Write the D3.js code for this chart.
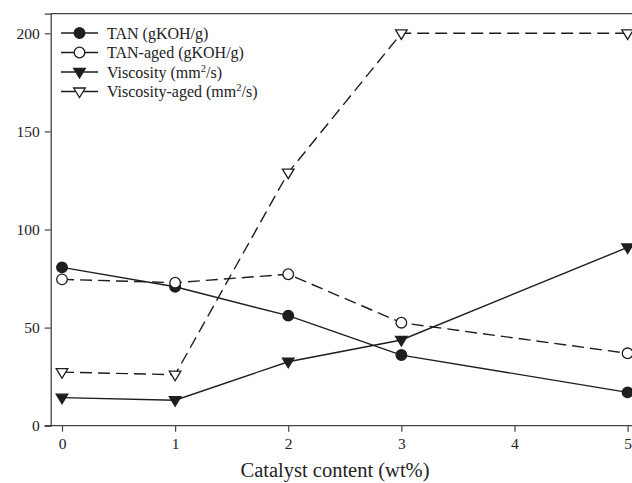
<!DOCTYPE html>
<html><head><meta charset="utf-8">
<script src="https://cdn.jsdelivr.net/npm/d3@7"></script>
<style>body{margin:0;background:#fff}svg{display:block}text{font-family:"Liberation Serif","Times New Roman",serif;fill:#222}</style>
</head><body><svg id="c" width="632" height="483"></svg>
<script>
const catalyst = [0, 1, 2, 3, 5];
const tan = [80.7, 70.8, 56.1, 36.0, 17.0];
const tanAged = [74.6, 72.9, 77.2, 52.5, 36.9];
const viscosity = [14.3, 13.0, 32.6, 43.7, 90.9];
const viscosityAged = [27.3, 26.0, 129, 200, 200];
const xTicks = [0, 1, 2, 3, 4, 5];
const yTicks = [0, 50, 100, 150, 200];

const seriesList = [
  {name: "TAN (gKOH/g)", sup: null, values: tan, marker: "circle", filled: true, dashed: false},
  {name: "TAN-aged (gKOH/g)", sup: null, values: tanAged, marker: "circle", filled: false, dashed: true},
  {name: "Viscosity (mm", sup: "2", rest: "/s)", values: viscosity, marker: "tri", filled: true, dashed: false},
  {name: "Viscosity-aged (mm", sup: "2", rest: "/s)", values: viscosityAged, marker: "tri", filled: false, dashed: true}
];

const svg = d3.select("#c");
const x = d3.scaleLinear().domain([-0.1, 5.1]).range([50.7, 638.9]);
const y = d3.scaleLinear().domain([0, 210]).range([425.7, 13.7]);
const ink = "#1e1e1e";

svg.append("line").attr("x1", x(-0.1)).attr("x2", 632).attr("y1", y(210)).attr("y2", y(210))
  .attr("stroke", "#444").attr("stroke-width", 1.3);

const xAxis = svg.append("g").attr("transform", `translate(0,${y(0)})`)
  .call(d3.axisBottom(x).tickValues(xTicks).tickSize(6).tickPadding(6).tickFormat(d3.format("d")));
const yAxis = svg.append("g").attr("transform", `translate(${x(-0.1)},0)`)
  .call(d3.axisLeft(y).tickValues(yTicks).tickSize(6).tickPadding(5).tickFormat(d3.format("d")));
[xAxis, yAxis].forEach(a => {
  a.attr("font-family", null);
  a.select(".domain").attr("stroke", "#444").attr("stroke-width", 1.3);
  a.selectAll(".tick line").attr("stroke", "#444").attr("stroke-width", 1.2);
  a.selectAll(".tick text").style("font-family", '"Liberation Serif",serif').style("font-size", "15.5px").attr("fill", "#222");
});
xAxis.select(".domain").attr("d", `M${x(-0.1) - 6},0H640`);

svg.append("text").attr("x", 335).attr("y", 477).attr("text-anchor", "middle")
  .style("font-size", "20.5px").text("Catalyst content (wt%)");

function drawMarker(g, m, cx, cy, filled) {
  if (m === "circle") {
    g.append("circle").attr("cx", cx).attr("cy", cy).attr("r", 5.3)
      .attr("fill", filled ? ink : "#fff").attr("stroke", ink).attr("stroke-width", 1.3);
  } else {
    const s = 5.8;
    g.append("path").attr("d", `M${cx - s},${cy - s * 0.6}L${cx + s},${cy - s * 0.6}L${cx},${cy + s * 1.05}Z`)
      .attr("fill", filled ? ink : "#fff").attr("stroke", ink).attr("stroke-width", 1.3);
  }
}

const line = d3.line().x(d => x(d[0])).y(d => y(d[1]));
seriesList.forEach(s => {
  const pts = catalyst.map((c, i) => [c, s.values[i]]);
  svg.append("path").attr("d", line(pts)).attr("fill", "none").attr("stroke", ink)
    .attr("stroke-width", 1.4).attr("stroke-dasharray", s.dashed ? "12,6" : null);
});
seriesList.forEach(s => {
  const g = svg.append("g");
  catalyst.forEach((c, i) => drawMarker(g, s.marker, x(c), y(s.values[i]), s.filled));
});

const leg = svg.append("g");
seriesList.forEach((s, i) => {
  const ly = 33 + i * 19.5;
  leg.append("line").attr("x1", 61).attr("x2", 98).attr("y1", ly).attr("y2", ly)
    .attr("stroke", ink).attr("stroke-width", 1.4);
  drawMarker(leg, s.marker, 79.5, ly, s.filled);
  const t = leg.append("text").attr("x", 107).attr("y", ly + 5.5).style("font-size", "16px");
  t.append("tspan").text(s.name);
  if (s.sup) {
    t.append("tspan").attr("dy", -6).style("font-size", "10.5px").text(s.sup);
    t.append("tspan").attr("dy", 6).text(s.rest);
  }
});
</script></body></html>
